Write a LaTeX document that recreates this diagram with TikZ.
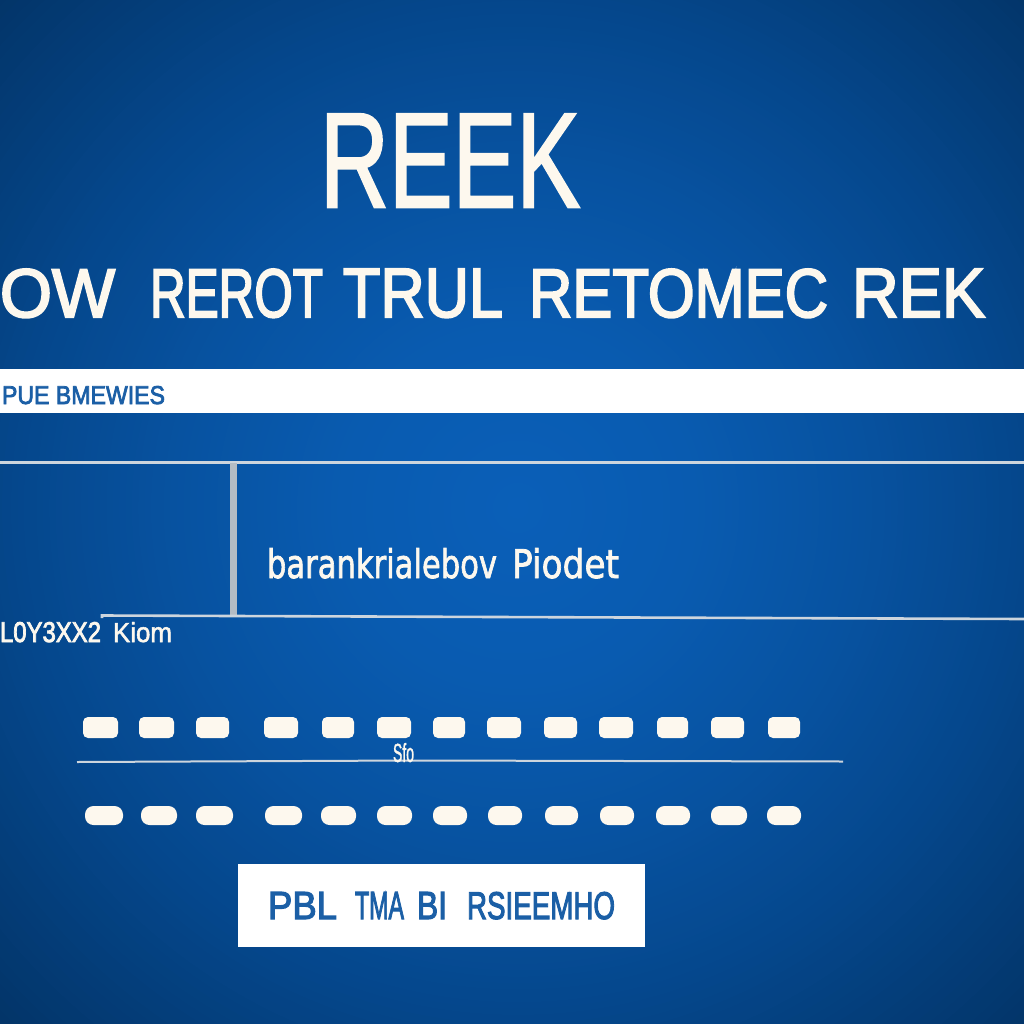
\documentclass[tikz,border=0pt]{standalone}
\usepackage{fontspec}
\setmainfont{Liberation Sans}
\newfontfamily\heavy[FakeBold=1.8]{Liberation Sans}
\newfontfamily\heavier[FakeBold=3]{Liberation Sans}
\newfontfamily\serifish[FakeBold=2]{DejaVu Sans}
\definecolor{cream}{HTML}{FDF8EE}
\definecolor{barblue}{HTML}{1B5FA6}
\definecolor{rulegrey}{HTML}{CDD5DD}
\definecolor{stemgrey}{HTML}{B4BCC4}
\definecolor{bga}{HTML}{0A5FB8}
\definecolor{bgb}{HTML}{095BB0}
\definecolor{bgc}{HTML}{0752A0}
\definecolor{bgd}{HTML}{05478C}
\definecolor{bge}{HTML}{033569}
\newcommand\lbl[7]{\node[#2,anchor=north west,inner sep=0pt,outer sep=0pt] (#1) at (#3,#4)
  {\resizebox{#5pt}{#6pt}{#7}};}
\tikzset{
  x=1pt,y=-1pt,
  lighttext/.style={text=cream},
  bluetext/.style={text=barblue},
  rulestroke/.style={draw=rulegrey,line width=3pt},
  lowstroke/.style={draw=rulegrey,line width=2.6pt},
  thinstroke/.style={draw=rulegrey,line width=2pt},
  stemstroke/.style={draw=stemgrey,line width=7pt},
  pilla/.style={fill=cream,draw=none,rounded corners=5pt},
  pillb/.style={fill=cream,draw=none,rounded corners=8.5pt},
  panel/.style={fill=white,draw=none},
}
\newcommand\pillA[3]{\path[pilla] (#2,717) rectangle (#3,738) coordinate (#1);}
\newcommand\pillB[3]{\path[pillb] (#2,806) rectangle (#3,825) coordinate (#1);}
\begin{document}
\begin{tikzpicture}
\useasboundingbox (0,0) rectangle (1024,1024);
\begin{scope}
\clip (0,0) rectangle (1024,1024);
\fill[bge] (0,0) rectangle (1024,1024);
\foreach \ra/\rb/\ca/\cb in {730/507/bge/bgd,507/348/bgd/bgc,348/181/bgc/bgb,181/4/bgb/bga}{
  \foreach \p in {0,4,...,100}{
    \pgfmathsetmacro\rr{\ra+(\rb-\ra)*(\p/100)}
    \fill[color=\cb!\p!\ca] (518,508) circle[radius=\rr pt];
  }
}
\end{scope}

\lbl{title}{lighttext}{320}{114}{260}{93}{\heavy REEK}
\lbl{ow}{lighttext}{0}{269}{115}{48}{\heavier OW}
\lbl{rerot}{lighttext}{150}{269}{173}{48}{\heavier REROT}
\lbl{trul}{lighttext}{343}{269}{160}{48}{\heavier TRUL}
\lbl{retomec}{lighttext}{529}{269}{299}{48}{\heavier RETOMEC}
\lbl{rek}{lighttext}{852}{269}{133}{48}{\heavier REK}

\path[panel] (0,369) rectangle (1024,413);
\lbl{pue}{bluetext}{2}{386}{163}{18}{\heavier PUE BMEWIES}

\coordinate (hl) at (0,462.5); \coordinate (hr) at (1024,462.5);
\draw[rulestroke] (hl) -- (hr);
\coordinate (vt) at (233,463); \coordinate (vb) at (233,615);
\draw[stemstroke] (vt) -- (vb);
\coordinate (bl0) at (102,618); \coordinate (bl1) at (102,615.5); \coordinate (bl2) at (1024,619);
\draw[lowstroke] (bl0) -- (bl1) -- (bl2);

\lbl{bar}{lighttext}{267}{548}{230}{30}{\serifish barankrialebov}
\lbl{prod}{lighttext}{512}{548}{107}{30}{\serifish Piodet}
\lbl{num}{lighttext}{0}{622}{101}{20}{\heavier L0Y3XX2}
\lbl{kiom}{lighttext}{113}{622}{59}{20}{\heavy Kiom}

\pillA{a1}{83}{118}\pillA{a2}{139}{174}\pillA{a3}{196}{229}\pillA{a4}{264}{298}
\pillA{a5}{322}{354}\pillA{a6}{377}{411}\pillA{a7}{433}{465}\pillA{a8}{487}{521}
\pillA{a9}{544}{577}\pillA{a10}{599}{633}\pillA{a11}{657}{688}\pillA{a12}{711}{744}
\pillA{a13}{768}{800}

\coordinate (ml) at (77,762); \coordinate (mm) at (412,760.5); \coordinate (mr) at (843,761.5);
\draw[thinstroke] (ml) -- (mm) -- (mr);
\lbl{glyph}{lighttext}{393}{743}{21}{19}{\heavy Sfo}

\pillB{b1}{85}{123}\pillB{b2}{141}{177}\pillB{b3}{196}{233}\pillB{b4}{265}{302}
\pillB{b5}{321}{356}\pillB{b6}{377}{412}\pillB{b7}{433}{467}\pillB{b8}{488}{522}
\pillB{b9}{545}{578}\pillB{b10}{600}{634}\pillB{b11}{656}{690}\pillB{b12}{711}{747}
\pillB{b13}{767}{801}

\path[panel] (238,864) rectangle (645,947);
\lbl{pbl}{bluetext}{268}{892}{69}{27}{\heavier PBL}
\lbl{tma}{bluetext}{355}{892}{49}{27}{\heavier TMA}
\lbl{bi}{bluetext}{417}{892}{30}{27}{\heavier BI}
\lbl{rsi}{bluetext}{467}{892}{148}{27}{\heavier RSIEEMHO}
\end{tikzpicture}
\end{document}
